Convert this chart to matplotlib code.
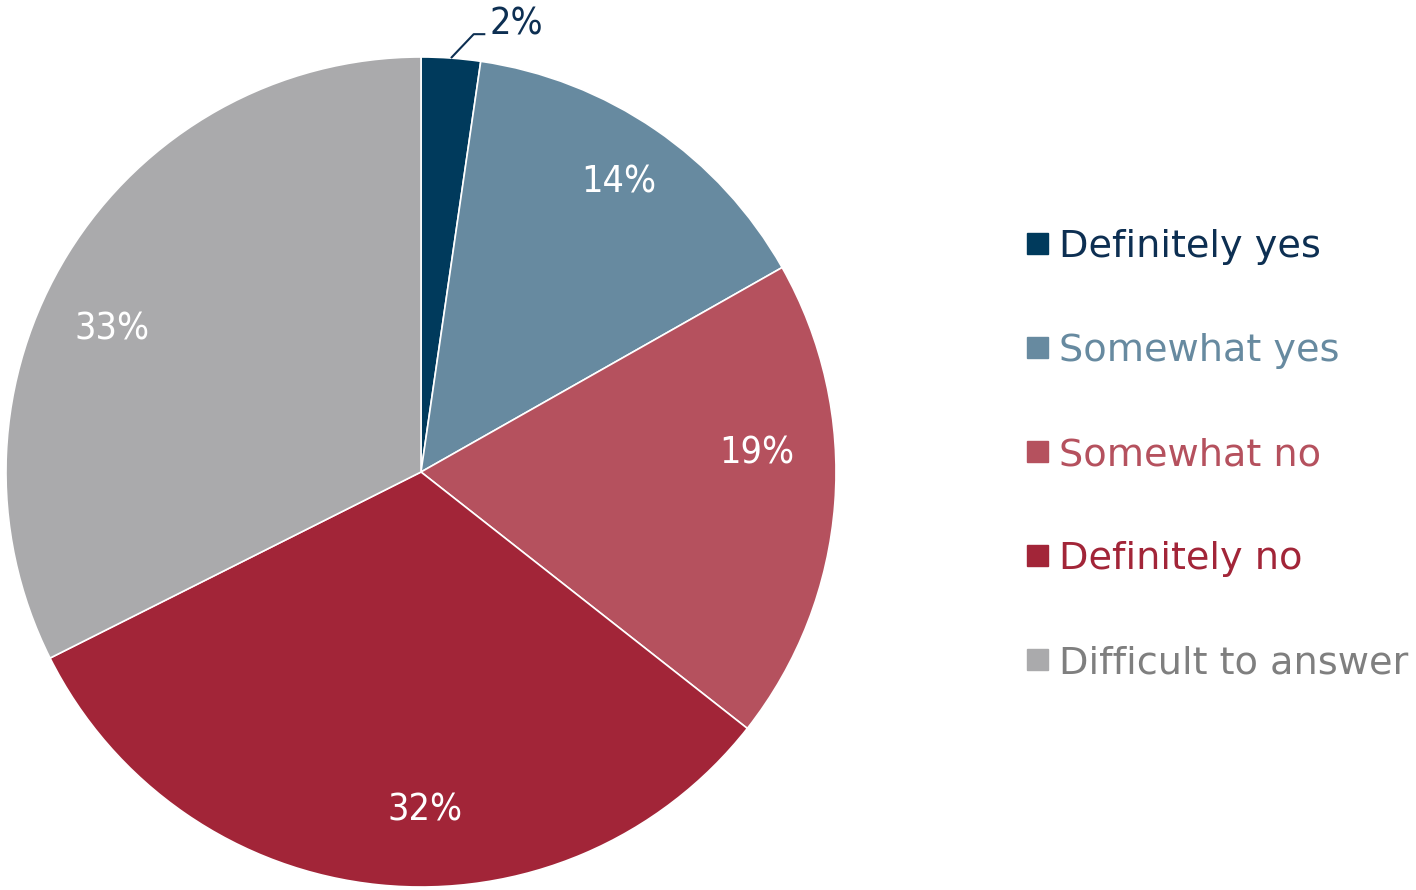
import numpy as np
import matplotlib.pyplot as plt

categories = ['Definitely yes', 'Somewhat yes', 'Somewhat no', 'Definitely no', 'Difficult to answer']
shares = [2.3, 14.5, 18.8, 32.0, 32.4]
pct_labels = ['2%', '14%', '19%', '32%', '33%']

colors = ['#003a5c', '#678aa0', '#b5515e', '#a22538', '#aaaaac']
text_colors = ['#0d2f52', '#678aa0', '#b5515e', '#a22538', '#7f7f7f']

plt.rcParams['font.family'] = ['DejaVu Sans']

W, H = 1416, 890
fig = plt.figure(figsize=(W / 100, H / 100), dpi=100)

# pie: centre (421, 472) px, radius 415 px
cx, cy, R = 421, 472, 415
ax = fig.add_axes([(cx - R) / W, (H - cy - R) / H, 2 * R / W, 2 * R / H])
wedges, _ = ax.pie(shares, colors=colors, startangle=90, counterclock=False,
                   radius=1, wedgeprops=dict(edgecolor='white', linewidth=1.2))
ax.set_xlim(-1, 1)
ax.set_ylim(-1, 1)
ax.set_aspect('equal')
ax.axis('off')

# label placement (angle nudge in degrees, radius fraction)
nudges = [0, 0, 7.5, 6.5, 7]
radii = [0, 0.845, 0.81, 0.815, 0.82]
for i, w in enumerate(wedges):
    if i == 0:
        continue
    mid = np.deg2rad((w.theta1 + w.theta2) / 2 + nudges[i])
    ax.text(radii[i] * np.cos(mid), radii[i] * np.sin(mid), pct_labels[i],
            ha='center', va='center', color='white', fontsize=27,
            fontstretch='condensed')

# small slice label with leader line
w0 = wedges[0]
mid0 = np.deg2rad((w0.theta1 + w0.theta2) / 2)
p0 = (np.cos(mid0), np.sin(mid0))
ax.plot([p0[0], 0.127, 0.155], [p0[1], 1.055, 1.055], color='#0d2f52', lw=1.5,
        clip_on=False, solid_capstyle='butt')
ax.text(0.164, 1.055, pct_labels[0], ha='left', va='baseline', color='#0d2f52',
        fontsize=27, fontstretch='condensed')

# legend drawn by hand
ys = [243, 347, 451, 555, 659]
for name, c, tc, y in zip(categories, colors, text_colors, ys):
    fig.patches.append(plt.Rectangle(((1027) / W, (H - y - 11) / H), 21 / W, 21 / H,
                                     transform=fig.transFigure, color=c))
    fig.text(1059 / W, (H - y) / H, name, ha='left', va='center_baseline',
             color=tc, fontsize=27.5)

fig.savefig('out.png', dpi=100)
